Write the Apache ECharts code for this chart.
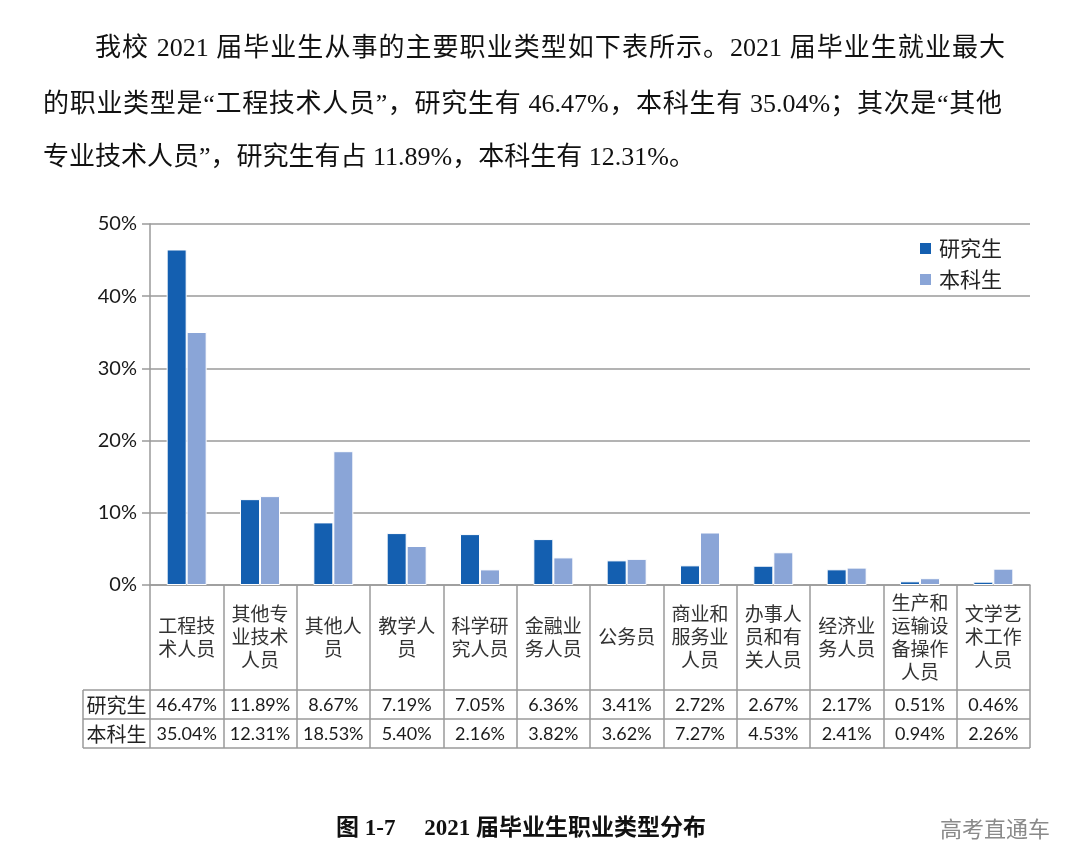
<!DOCTYPE html>
<html>
<head>
<meta charset="utf-8">
<script src="https://cdn.jsdelivr.net/npm/echarts@6/dist/echarts.min.js"></script>
<style>
  html, body { margin: 0; padding: 0; background: #fff; }
  #wrap { position: relative; width: 1080px; height: 868px; }
  #chart { position: absolute; left: 0; top: 0; width: 1080px; height: 868px; }
  .para { position: absolute; font-family: "Liberation Serif", "Noto Sans CJK SC", serif; font-size: 26px; color: #111; line-height: 30px; white-space: nowrap; }
  .just { text-align: justify; text-align-last: justify; white-space: normal; }
</style>
</head>
<body>
<div id="wrap">
  <div id="chart"></div>
  <div class="para just" style="left:95px; top:33px; width:910px;">我校 2021 届毕业生从事的主要职业类型如下表所示。2021 届毕业生就业最大</div>
  <div class="para just" style="left:43px; top:89px; width:959px;">的职业类型是“工程技术人员”，研究生有 46.47%，本科生有 35.04%；其次是“其他</div>
  <div class="para" style="left:43px; top:142px;">专业技术人员”，研究生有占 11.89%，本科生有 12.31%。</div>
</div>
<script>
const categories = ['工程技术人员', '其他专业技术人员', '其他人员', '教学人员', '科学研究人员', '金融业务人员', '公务员', '商业和服务业人员', '办事人员和有关人员', '经济业务人员', '生产和运输设备操作人员', '文学艺术工作人员'];
const graduate = [46.47, 11.89, 8.67, 7.19, 7.05, 6.36, 3.41, 2.72, 2.67, 2.17, 0.51, 0.46];
const undergraduate = [35.04, 12.31, 18.53, 5.40, 2.16, 3.82, 3.62, 7.27, 4.53, 2.41, 0.94, 2.26];
const seriesNames = ['研究生', '本科生'];
const captionText = '图 1-7\u3000 2021 届毕业生职业类型分布';
const watermarkText = '高考直通车';

const GL = 150, GR = 1030, GT = 224, GB = 585;
const lineColor = '#9a9a9a';
const chunk3 = s => s.match(/.{1,3}/g).join('\n');
const pct = v => v.toFixed(2) + '%';

const chart = echarts.init(document.getElementById('chart'));
const valueAxis = (data, margin) => ({
  type: 'category', gridIndex: 0, position: 'bottom', data: data.map(pct),
  axisLine: { show: false }, axisTick: { show: false }, splitLine: { show: false },
  axisLabel: { interval: 0, margin: margin, verticalAlign: 'middle', fontFamily: 'Lato, "Noto Sans"', fontSize: 18, color: '#1a1a1a' }
});
chart.setOption({
  backgroundColor: '#ffffff',
  animation: false,
  grid: { left: GL, right: 1080 - GR, top: GT, bottom: 868 - GB, containLabel: false },
  legend: {
    data: seriesNames, orient: 'vertical', left: 918, top: 238,
    icon: 'rect', itemWidth: 13, itemHeight: 13, itemGap: 10, padding: 0,
    textStyle: { fontFamily: '"Noto Sans CJK SC"', fontSize: 21, color: '#222', padding: [0, 0, 0, 2] }
  },
  xAxis: [
    {
      type: 'category', data: categories, position: 'bottom',
      axisLine: { show: true, lineStyle: { color: lineColor, width: 1.5 } },
      axisTick: { show: true, interval: 0, length: 163, lineStyle: { color: lineColor, width: 1.5 } },
      axisLabel: { interval: 0, margin: 52, verticalAlign: 'middle', formatter: chunk3,
        fontFamily: '"Noto Sans CJK SC"', fontSize: 19, lineHeight: 23, color: '#333' }
    },
    valueAxis(graduate, 120),
    valueAxis(undergraduate, 149)
  ],
  yAxis: {
    type: 'value', min: 0, max: 50, interval: 10,
    axisLine: { show: true, lineStyle: { color: lineColor, width: 1.5 } },
    axisTick: { show: true, length: 8, lineStyle: { color: lineColor, width: 1.5 } },
    splitLine: { show: true, lineStyle: { color: lineColor, width: 1.5 } },
    axisLabel: { formatter: '{value}%', margin: 13, fontFamily: 'Lato, "Noto Sans"', fontSize: 20, color: '#1a1a1a' }
  },
  series: [
    { name: seriesNames[0], type: 'bar', data: graduate, barWidth: 20, barGap: '0%',
      itemStyle: { color: '#145fb0', borderColor: '#fff', borderWidth: 1 } },
    { name: seriesNames[1], type: 'bar', data: undergraduate, barWidth: 20, barGap: '0%',
      itemStyle: { color: '#8aa5d7', borderColor: '#fff', borderWidth: 1 } }
  ],
  graphic: [
    { type: 'line', shape: { x1: 83, y1: 690, x2: GR, y2: 690 }, style: { stroke: lineColor, lineWidth: 1.5 } },
    { type: 'line', shape: { x1: 83, y1: 719, x2: GR, y2: 719 }, style: { stroke: lineColor, lineWidth: 1.5 } },
    { type: 'line', shape: { x1: 83, y1: 748, x2: GR, y2: 748 }, style: { stroke: lineColor, lineWidth: 1.5 } },
    { type: 'line', shape: { x1: 83, y1: 690, x2: 83, y2: 748 }, style: { stroke: lineColor, lineWidth: 1.5 } },
    { type: 'text', x: 116.5, y: 705, style: { text: seriesNames[0], align: 'center', verticalAlign: 'middle', font: '20px "Noto Sans CJK SC"', fill: '#222' } },
    { type: 'text', x: 116.5, y: 734, style: { text: seriesNames[1], align: 'center', verticalAlign: 'middle', font: '20px "Noto Sans CJK SC"', fill: '#222' } },
    { type: 'text', x: 336, y: 829, style: { text: captionText, align: 'left', verticalAlign: 'middle', font: 'bold 23px "Liberation Serif", "Noto Sans CJK SC"', fill: '#111' } },
    { type: 'text', x: 940, y: 829, style: { text: watermarkText, align: 'left', verticalAlign: 'middle', font: '22px "Noto Sans CJK SC"', fill: '#8a8a8a' } }
  ]
});
</script>
</body>
</html>
